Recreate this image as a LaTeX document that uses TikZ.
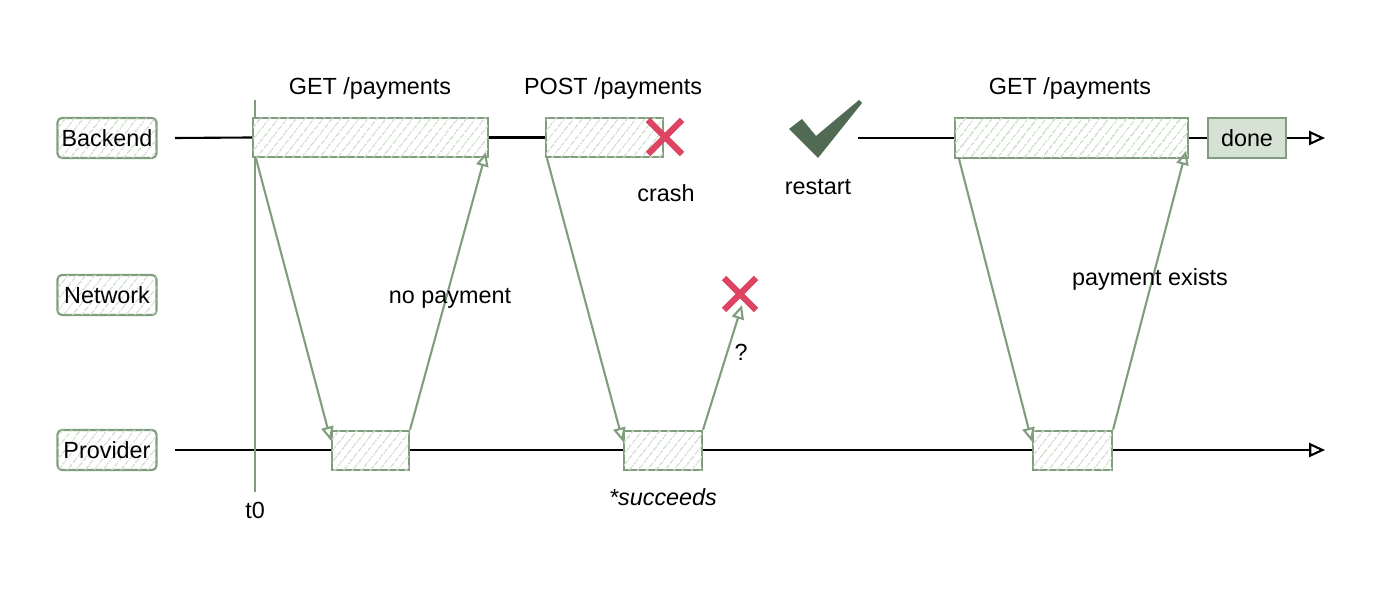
\documentclass[tikz,border=0pt]{standalone}
\usepackage{fontspec}
\setmainfont{Liberation Sans}
\usetikzlibrary{arrows.meta,positioning,calc,patterns.meta}
\definecolor{sketch}{RGB}{128,158,126}
\definecolor{hatch}{RGB}{206,220,204}
\definecolor{donefill}{RGB}{214,226,211}
\definecolor{crossred}{RGB}{221,68,98}
\definecolor{tick}{RGB}{80,106,84}
\begin{document}
\begin{tikzpicture}[x=0.02cm,y=-0.02cm,font=\fontsize{13.3}{15}\selectfont,
  hatched/.style={draw=sketch,line width=1.2pt,fill=white,
    postaction={pattern={Lines[angle=52,distance=4pt,line width=0.8pt]},pattern color=hatch}},
  lanebox/.style={hatched,rounded corners=2.5pt,minimum width=1.98cm,minimum height=0.8cm,inner sep=0pt},
  actbox/.style={hatched,minimum height=0.79cm,inner sep=0pt},
  donebox/.style={draw=sketch,line width=1.2pt,fill=donefill,minimum width=1.56cm,minimum height=0.8cm,inner sep=0pt},
  lane/.style={line width=1.2pt,black},
  msg/.style={draw=sketch,line width=1.2pt,-{Triangle[open,length=8pt,width=7pt]}},
  cross/.style={crossred,line width=3.6pt}]
\useasboundingbox (0,0) rectangle (1400,590);
\coordinate (bkstart) at (175,138);
\coordinate (bkrestart) at (858,138);
\coordinate (bkend) at (1325,138);
\coordinate (pvstart) at (175,450);
\coordinate (pvend) at (1325,450);
\coordinate (t0top) at (255,100);
\coordinate (t0bot) at (255,492);
\draw[lane,-{Triangle[open,length=9pt,width=8pt]}] (pvstart) -- (pvend);
\draw[draw=sketch,line width=1.2pt] (t0top) -- (t0bot);
\node (t0) at (255,510) {t0};
\node[lanebox] (backend) at (107,138) {Backend};
\node[lanebox] (network) at (107,295) {Network};
\node[lanebox] (provider) at (107,450) {Provider};
\node[actbox,minimum width=4.7cm] (get1) at (370.5,137.5) {};
\node[actbox,minimum width=2.34cm] (post) at (604.5,137.5) {};
\node[actbox,minimum width=4.66cm] (get2) at (1071.5,138) {};
\node[donebox] (done) at (1247,138) {done};
\node[actbox,minimum width=1.54cm] (prov1) at (370.5,450.5) {};
\node[actbox,minimum width=1.56cm] (prov2) at (663,450.5) {};
\node[actbox,minimum width=1.58cm] (prov3) at (1072.5,450.5) {};
\draw[lane] (bkstart) -- (get1.west);
\draw[lane] (get1.east) -- (post.west);
\draw[lane] (bkrestart) -- (get2.west);
\draw[lane] (get2.east) -- (done.west);
\draw[lane,-{Triangle[open,length=9pt,width=8pt]}] (done.east) -- (bkend);
\node (lget1) at (370,88) {GET /payments};
\node (lpost) at (613,88) {POST /payments};
\node (lget2) at (1070,88) {GET /payments};
\draw[msg] ($(get1.south west)+(4,0)$) -- ($(prov1.north west)+(0,11)$);
\draw[msg] (prov1.north east) -- ($(get1.south east)+(-3,-6)$);
\node (nopay) at (450,298) {no payment};
\draw[msg] ($(post.south west)+(2,0)$) -- ($(prov2.north west)+(0,12)$);
\coordinate (lost) at (742,305);
\draw[msg] (prov2.north east) -- (lost);
\node (qmark) at (741,352) {?};
\node[font=\fontsize{13.3}{15}\selectfont\itshape] (succ) at (663,497) {*succeeds};
\draw[msg] ($(get2.south west)+(5,0)$) -- ($(prov3.north west)+(0,12)$);
\draw[msg] (prov3.north east) -- ($(get2.south east)+(-3,-8)$);
\node (exists) at (1150,279) {payment exists};
\coordinate (crashx) at (665,137);
\draw[cross] ($(crashx)+(-17,-17)$) -- ($(crashx)+(17,17)$);
\draw[cross] ($(crashx)+(-17,17)$) -- ($(crashx)+(17,-17)$);
\node (crash) at (666,193) {crash};
\coordinate (lostx) at (740,294);
\draw[cross] ($(lostx)+(-16,-16)$) -- ($(lostx)+(16,16)$);
\draw[cross] ($(lostx)+(-16,16)$) -- ($(lostx)+(16,-16)$);
\fill[tick] (789,129) -- (802,119) -- (816,136) -- (859,100) -- (862,103) -- (818,158) -- cycle;
\node (restart) at (818,187) {restart};
\end{tikzpicture}
\end{document}
